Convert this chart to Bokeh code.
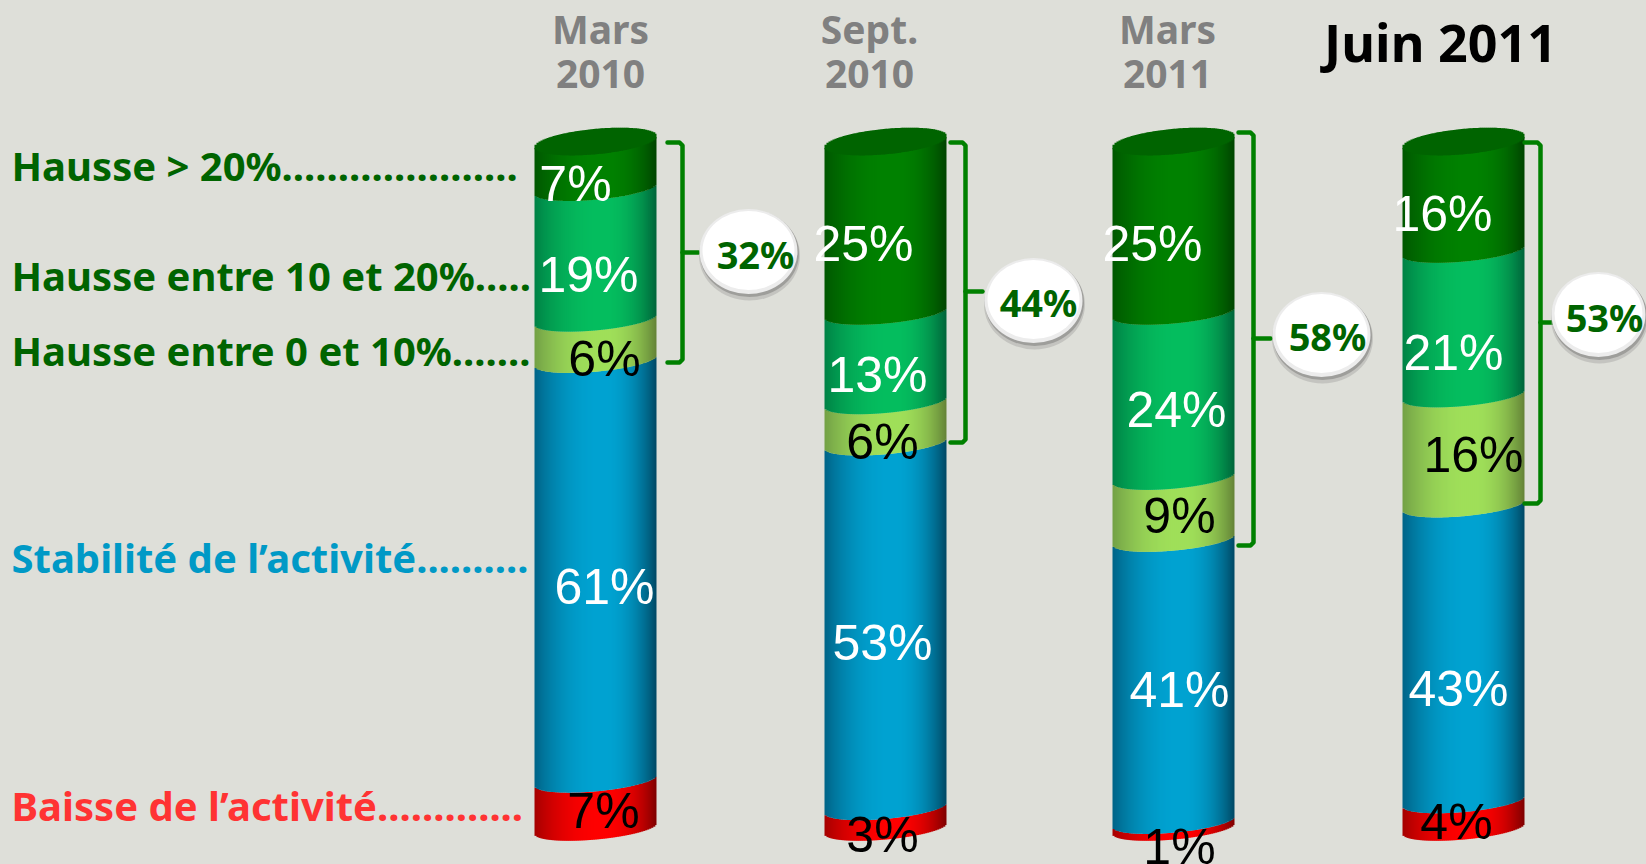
from bokeh.plotting import figure
from bokeh.models import Range1d, ColumnDataSource, GlobalInlineStyleSheet
from bokeh.core.properties import value
from bokeh.embed import file_html
from bokeh.resources import INLINE
import numpy as np

# ---- data ----
periods = [["Mars", "2010"], ["Sept.", "2010"], ["Mars", "2011"], ["Juin 2011"]]
baisse = [7, 3, 1, 4]
stabilite = [61, 53, 41, 43]
hausse_0_10 = [6, 6, 9, 16]
hausse_10_20 = [19, 13, 24, 21]
hausse_20 = [7, 25, 25, 16]
totals = [32, 44, 58, 53]
legend_labels = ["Hausse > 20%.....................", "Hausse entre 10 et 20%.....", "Hausse entre 0 et 10%.......",
                 "Stabilité de l’activité..........", "Baisse de l’activité............."]

# ---- layout ----
W, H = 1646, 864
BG = "#dedfd9"
PX_PER = 6.88
Y0 = 828
def Y(py):
    return (Y0 - py) / PX_PER

lefts = [534, 824, 1112, 1402]
CW = 122
TILT = 11 / PX_PER
SAG = 11 / PX_PER
series = [baisse, stabilite, hausse_0_10, hausse_10_20, hausse_20]
peak = [(255, 0, 0), (0, 163, 210), (160, 224, 90), (5, 190, 95), (0, 130, 0)]
edge_l = [(165, 0, 0), (0, 100, 135), (115, 160, 70), (0, 130, 70), (0, 88, 0)]
edge_r = [(125, 0, 0), (0, 72, 100), (100, 130, 55), (0, 100, 58), (0, 68, 0)]
TXT_COL = [["black"] * 4, ["white"] * 4, ["black"] * 4, ["white"] * 4, ["white"] * 4]
txt_px = [
    [(603, 810), (882, 834), (1179, 846), (1456, 821)],
    [(604, 586), (882, 642), (1179, 689), (1458, 688)],
    [(604, 358), (882, 441), (1179, 515), (1473, 454)],
    [(588, 274), (877, 374), (1176, 409), (1453, 352)],
    [(575, 183), (863, 243), (1152, 243), (1442, 213)],
]
legend_px = [(11, 165), (11, 275), (11, 350), (11, 557), (11, 805)]
legend_col = ["#006400", "#006400", "#006400", "#0099c6", "#ff3333"]
hdr = [(600, 28, 73), (869, 28, 73), (1167, 28, 73)]
brackets = [(667, 682, 142, 362, 252, 698), (950, 965, 142, 442, 291, 982),
            (1238, 1253, 132, 545, 338, 1270), (1524, 1540, 142, 503, 322, 1555)]
bubbles = [(748, 250, 98), (1033, 299, 98), (1321, 333, 98), (1598, 313, 94)]
bubble_txt = [(755, 253), (1038, 301), (1327, 335), (1604, 316)]

p = figure(width=W, height=H, x_range=Range1d(0, W), y_range=Range1d(Y(H), Y(0)),
           output_backend="svg", toolbar_location=None, min_border=0,
           background_fill_color=BG, border_fill_color=BG, outline_line_color=None)
p.axis.visible = False
p.grid.visible = False
p.stylesheets = [GlobalInlineStyleSheet(css=f"html,body{{margin:0;padding:0;background:{BG};overflow:hidden}}")]

STEP = 2
def shade(t, pk, el, er):
    c = 0.56
    if t < c:
        f = ((c - t) / c) ** 2.2
        e = el
    else:
        f = ((t - c) / (1 - c)) ** 2.2
        e = er
    return "#%02x%02x%02x" % tuple(int(pk[k] + (e[k] - pk[k]) * f) for k in range(3))

for c, left in enumerate(lefts):
    L, R, B, T, C = [], [], [], [], []
    cum = 0.0
    xs = np.arange(left, left + CW, STEP)
    for s, ser in enumerate(series):
        low, high = cum, cum + ser[c]
        cum = high
        for x in xs:
            t = (x + STEP / 2 - left) / CW
            arc = np.sqrt(max(0.0, 1 - (2 * t - 1) ** 2))
            off = TILT * (t - 0.5) - SAG * arc
            L.append(x)
            R.append(min(x + STEP + 0.8, left + CW))
            B.append(low + off)
            T.append(high + off)
            C.append(shade(t, peak[s], edge_l[s], edge_r[s]))
    p.quad(left="l", right="r", bottom="b", top="t", fill_color="c", line_color=None,
           source=ColumnDataSource(dict(l=L, r=R, b=B, t=T, c=C)))
    # top face
    L, R, B, T, C = [], [], [], [], []
    for x in xs:
        t = (x + STEP / 2 - left) / CW
        arc = np.sqrt(max(0.0, 1 - (2 * t - 1) ** 2))
        base = cum + TILT * (t - 0.5) - 0.15
        L.append(x); R.append(min(x + STEP + 0.8, left + CW))
        B.append(base - 1.85 * arc); T.append(base + 1.85 * arc)
        C.append("#006400")
    p.quad(left="l", right="r", bottom="b", top="t", fill_color="c", line_color=None,
           source=ColumnDataSource(dict(l=L, r=R, b=B, t=T, c=C)))

# brackets
bx, by = [], []
for x0, xs_, yt, yb, ym, xe in brackets:
    bx.append([x0, xs_ - 3, xs_, xs_, xs_ - 3, x0])
    by.append([Y(yt), Y(yt), Y(yt + 3), Y(yb - 3), Y(yb), Y(yb)])
    bx.append([xs_, xe]); by.append([Y(ym), Y(ym)])
p.multi_line(bx, by, line_color="#008000", line_width=4.5, line_join="round", line_cap="round")

# bubbles
for (cx, cy, w) in bubbles:
    p.ellipse([cx + 1], [Y(cy + 5)], width=w + 3, height=90 / PX_PER, fill_color="#a5a5a2", fill_alpha=0.45, line_color=None)
    p.ellipse([cx + 1], [Y(cy + 3)], width=w + 1, height=87 / PX_PER, fill_color="#8f8f8c", fill_alpha=0.7, line_color=None)
    p.ellipse([cx], [Y(cy + 1)], width=w, height=85 / PX_PER, fill_color="#ececec", line_color=None)
    p.ellipse([cx], [Y(cy)], width=w - 6, height=79 / PX_PER, fill_color="white", line_color=None)
p.text([q[0] for q in bubble_txt], [Y(q[1]) for q in bubble_txt], text=[f"{v}%" for v in totals],
       text_font=value("Noto Sans"), text_font_style="bold", text_font_size="38px",
       text_color="#006400", text_align="center", text_baseline="middle")

# value labels
for s, ser in enumerate(series):
    p.text([q[0] for q in txt_px[s]], [Y(q[1]) for q in txt_px[s]], text=[f"{v}%" for v in ser],
           text_font=value("Liberation Sans"), text_font_size="50px", text_color=TXT_COL[s],
           text_align="center", text_baseline="middle")

# legend labels
for lab, (x, y), col in zip(legend_labels, legend_px, legend_col):
    p.text([x], [Y(y)], text=[lab], text_font=value("Noto Sans"), text_font_style="bold",
           text_font_size="40px", text_color=col, text_align="left", text_baseline="alphabetic")

# period headers
for per, (x, y1, y2) in zip(periods[:3], hdr):
    p.text([x, x], [Y(y1), Y(y2)], text=per, text_font=value("Noto Sans"), text_font_style="bold",
           text_font_size="39px", text_color="#808080", text_align="center", text_baseline="alphabetic")
p.text([1440], [Y(41)], text=periods[3], text_font=value("Noto Sans"), text_font_style="bold",
       text_font_size="52px", text_color="black", text_align="center", text_baseline="alphabetic")

open("out.html", "w").write(file_html(p, INLINE))
